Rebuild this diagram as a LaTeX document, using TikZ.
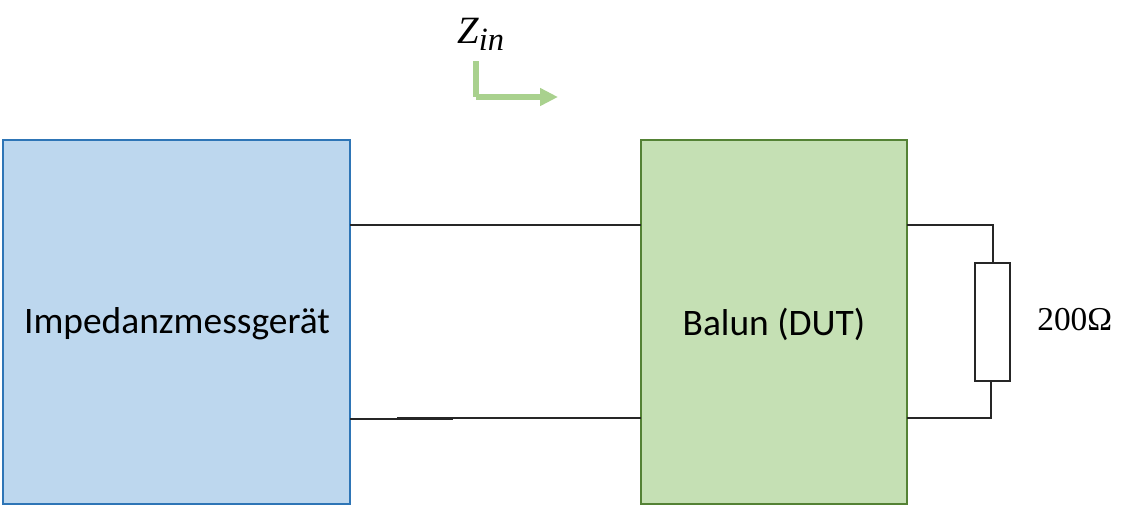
\documentclass[tikz,border=0pt]{standalone}
\usepackage{fontspec}
\setmainfont{Carlito}
\newfontfamily\mathlike{Liberation Serif}
\usetikzlibrary{arrows.meta}
\definecolor{bluefill}{HTML}{BDD7EE}
\definecolor{bluedraw}{HTML}{2E75B6}
\definecolor{greenfill}{HTML}{C5E0B4}
\definecolor{greendraw}{HTML}{548235}
\definecolor{arrowgreen}{HTML}{A9D18E}
\definecolor{wirecol}{HTML}{262626}
\tikzset{
  px/.style={x=0.02cm,y=-0.02cm},
  blockbox/.style={draw,line width=1.1pt,inner sep=0pt,outer sep=0pt,anchor=north west,text=black},
  wire/.style={draw=wirecol,line width=0.4mm},
  zarrow/.style={draw=arrowgreen,line width=0.115cm},
  blocklabel/.style={inner sep=0pt,font=\fontsize{21.3pt}{25pt}\selectfont,text=black},
  formula/.style={inner sep=0pt,text=black,anchor=base west}
}
\begin{document}
\begin{tikzpicture}[px]
\useasboundingbox (0,0) rectangle (1134,505);
\node[blockbox,draw=bluedraw,fill=bluefill,minimum width=6.94cm,minimum height=7.28cm] (mess) at (3,140) {};
\node[blockbox,draw=greendraw,fill=greenfill,minimum width=5.32cm,minimum height=7.28cm] (balun) at (641,140) {};
\node[blocklabel] (messlabel) at (177,324) {Impedanzmessgerät};
\node[blocklabel] (balunlabel) at (774,324) {Balun (DUT)};
\node[draw=wirecol,line width=0.4mm,minimum width=0.69cm,minimum height=2.36cm,inner sep=0pt] (res) at (992.5,322) {};
\coordinate (topL) at (mess.east |- 0,225);
\coordinate (topR) at (balun.west |- 0,225);
\coordinate (botL) at (mess.east |- 0,419);
\coordinate (botM) at (453,419);
\coordinate (botN) at (397,418);
\coordinate (botR) at (balun.west |- 0,418);
\coordinate (outT) at (balun.east |- 0,225);
\coordinate (outB) at (balun.east |- 0,418);
\coordinate (resT) at (993,225);
\coordinate (resB) at (991,418);
\draw[wire] (topL) -- (topR);
\draw[wire] (botL) -- (botM);
\draw[wire] (botN) -- (botR);
\draw[wire] (outT) -- (resT) -- (resT |- res.north);
\draw[wire] (outB) -- (resB) -- (resB |- res.south);
\coordinate (zstart) at (476,61);
\coordinate (zcorner) at (476,97);
\coordinate (zcornerb) at (476,97);
\coordinate (zend) at (558,97);
\draw[zarrow] (zstart) -- (zcorner);
\draw[zarrow,-{Triangle[length=0.36cm,width=0.34cm]}] (zcornerb) -- (zend);
\node[formula,font=\fontsize{22pt}{26pt}\selectfont\mathlike\itshape] (zin) at (457,43) {Z\raisebox{-4.5pt}{\fontsize{18.5pt}{20pt}\selectfont in}};
\node[formula,font=\fontsize{19pt}{22pt}\selectfont\mathlike] (ohm) at (1037,330) {200Ω};
\end{tikzpicture}
\end{document}
